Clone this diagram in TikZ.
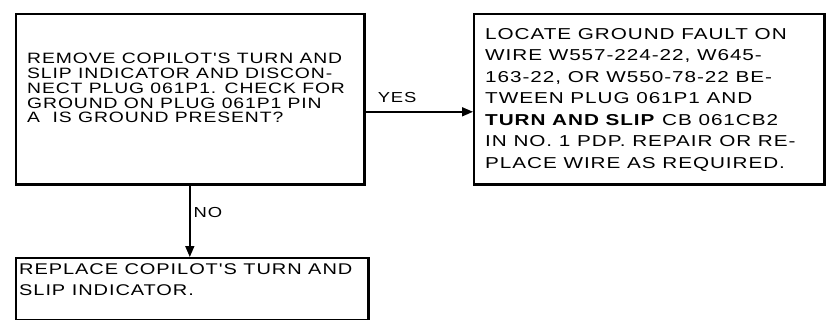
\documentclass[tikz,border=0pt]{standalone}
\usepackage{fontspec}
\setmainfont{Liberation Sans}[FakeStretch=1.27, LetterSpace=6]
\newfontfamily\fonta{Liberation Sans}[FakeStretch=1.29, LetterSpace=6]
\newfontfamily\fontb{Liberation Sans}[FakeStretch=1.31, LetterSpace=6]
\usetikzlibrary{arrows.meta}
\tikzset{
  box/.style={draw, line width=1.6pt, rectangle, anchor=north west, inner sep=0pt},
  heavy/.style={line width=3.6pt},
  txta/.style={anchor=north west, inner sep=0pt, align=left, font=\fonta\fontsize{15}{14.8}\selectfont},
  txtb/.style={anchor=north west, inner sep=0pt, align=left, font=\fontb\fontsize{15.8}{21.5}\selectfont},
  txtc/.style={anchor=north west, inner sep=0pt, align=left, font=\fonta\fontsize{15.5}{21}\selectfont},
  lbl/.style={inner sep=0pt, font=\fontsize{14.5}{14}\selectfont},
  conn/.style={line width=1.6pt, -{Triangle[length=11pt,width=9pt]}}
}
\begin{document}
\begin{tikzpicture}[x=1pt,y=-1pt]
\useasboundingbox (0,0) rectangle (826,320);
% boxes
\node[box, minimum width=348, minimum height=170] (b1) at (15,13) {};
\node[box, minimum width=350, minimum height=170] (b2) at (473,13) {};
\node[box, minimum width=352, minimum height=62] (b3) at (15,257) {};
\draw[heavy] (b1.north east) -- (b1.south east) -- (b1.south west);
\draw[heavy] (b2.south west) -- (b2.south east) -- (b2.north east);
\draw[heavy] (b3.north east) -- (b3.south east);
% texts
\node[txta] (t1) at (27,53) {REMOVE COPILOT'S TURN AND\\SLIP INDICATOR AND DISCON-\\NECT PLUG 061P1. CHECK FOR\\GROUND ON PLUG 061P1 PIN\\A\ \ IS GROUND PRESENT?};
\node[txtb] (t2) at (485,28) {LOCATE GROUND FAULT ON\\WIRE W557-224-22, W645-\\163-22, OR W550-78-22 BE-\\TWEEN PLUG 061P1 AND\\\textbf{TURN AND SLIP} CB 061CB2\\IN NO. 1 PDP. REPAIR OR RE-\\PLACE WIRE AS REQUIRED.};
\node[txtc] (t3) at (19,263) {REPLACE COPILOT'S TURN AND\\SLIP INDICATOR.};
% connectors
\draw[conn] ([yshift=-13]b1.east) -- ([yshift=-13]b2.west) node[lbl, pos=0.3, above=8pt] (yes) {YES};
\draw[conn] (b1.south) -- (b1.south |- b3.north) node[lbl, pos=0.38, right=3pt] (no) {NO};
\end{tikzpicture}
\end{document}
